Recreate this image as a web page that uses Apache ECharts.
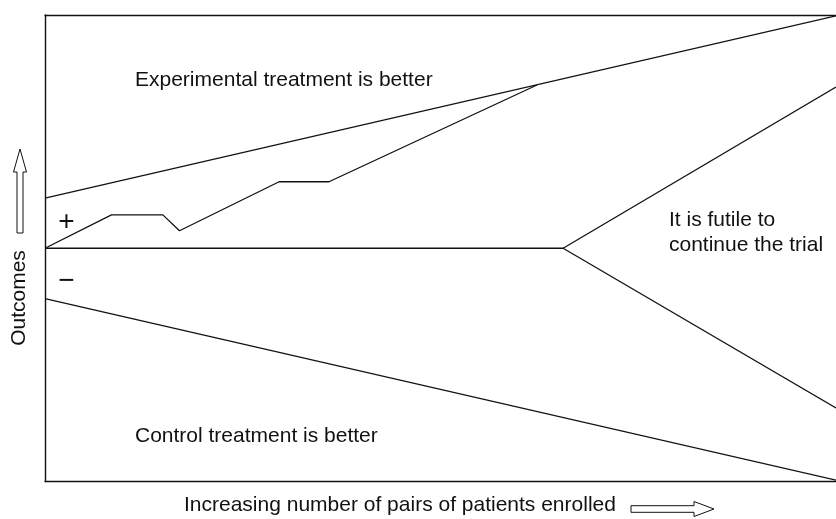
<!DOCTYPE html>
<html>
<head>
<meta charset="utf-8">
<script src="https://cdn.jsdelivr.net/npm/echarts@6/dist/echarts.min.js"></script>
<style>html,body{margin:0;padding:0;background:#fff}#c{width:836px;height:519px}</style>
</head>
<body>
<div id="c"></div>
<script>
// Data (x: relative number of pairs enrolled 0-100, y: relative outcome -100..100)
const upperBoundary = [[0, 21.5], [100, 99.6]];
const lowerBoundary = [[0, -21.6], [100, -99.4]];
const zeroLine = [[0, 0], [65.5, 0]];
const futilityUpper = [[65.5, 0], [100, 69.1]];
const futilityLower = [[65.5, 0], [100, -68.5]];
const trialPath = [[0, 0], [8.4, 14.3], [14.9, 14.3], [17.0, 7.5], [29.6, 28.5], [35.9, 28.5], [62.2, 70.0]];

const regionLabels = ['Experimental treatment is better', 'Control treatment is better', 'It is futile to\ncontinue the trial'];
const signLabels = ['+', '−'];
const xAxisTitle = 'Increasing number of pairs of patients enrolled';
const yAxisTitle = 'Outcomes';

const FONT = '"Liberation Sans", Arial, Helvetica, sans-serif';
const INK = '#111';

function lineSeries(name, data) {
  return {
    name, type: 'line', data, symbol: 'none', silent: true,
    lineStyle: { color: INK, width: 1.3 }, animation: false
  };
}
function txt(text, x, y, align, size) {
  return {
    type: 'text', x, y, silent: true,
    style: { text, fill: INK, font: (size || 21) + 'px ' + FONT, align: align || 'left', verticalAlign: 'middle', lineHeight: 25 }
  };
}
const frameAxis = (extra) => Object.assign({
  type: 'value', axisLine: { show: true, onZero: false, lineStyle: { color: INK, width: 1.4 } },
  axisTick: { show: false }, axisLabel: { show: false }, splitLine: { show: false }
}, extra);

const chart = echarts.init(document.getElementById('c'), null, { renderer: 'canvas' });
chart.setOption({
  animation: false,
  backgroundColor: '#fff',
  grid: { left: 45, top: 15, right: 0, bottom: 37.5, show: false },
  xAxis: [
    frameAxis({ min: 0, max: 100, position: 'bottom' }),
    frameAxis({ min: 0, max: 100, position: 'top' })
  ],
  yAxis: [frameAxis({ min: -100, max: 100, position: 'left' })],
  series: [
    lineSeries('upper', upperBoundary),
    lineSeries('lower', lowerBoundary),
    lineSeries('zero', zeroLine),
    lineSeries('futilityUpper', futilityUpper),
    lineSeries('futilityLower', futilityLower),
    lineSeries('path', trialPath)
  ],
  graphic: [
    txt(regionLabels[0], 135, 80),
    txt(regionLabels[1], 135, 436.5),
    txt(regionLabels[2], 669, 233),
    txt(signLabels[0], 66.5, 222, 'center', 28),
    txt(signLabels[1], 66.5, 281, 'center', 28),
    txt(xAxisTitle, 184, 505.5),
    {
      type: 'text', x: 19.5, y: 298, rotation: Math.PI / 2, silent: true,
      style: { text: yAxisTitle, fill: INK, font: '21px ' + FONT, align: 'center', verticalAlign: 'middle' }
    },
    {
      type: 'polygon', silent: true,
      shape: { points: [[20, 149], [26.5, 172], [23, 172], [23, 233], [17, 233], [17, 172], [13.5, 172]] },
      style: { fill: '#fff', stroke: INK, lineWidth: 1 }
    },
    {
      type: 'polygon', silent: true,
      shape: { points: [[714, 509], [694, 501.5], [694, 505.7], [631, 505.7], [631, 512.3], [694, 512.3], [694, 516.5]] },
      style: { fill: '#fff', stroke: INK, lineWidth: 1 }
    }
  ]
});
</script>
</body>
</html>
